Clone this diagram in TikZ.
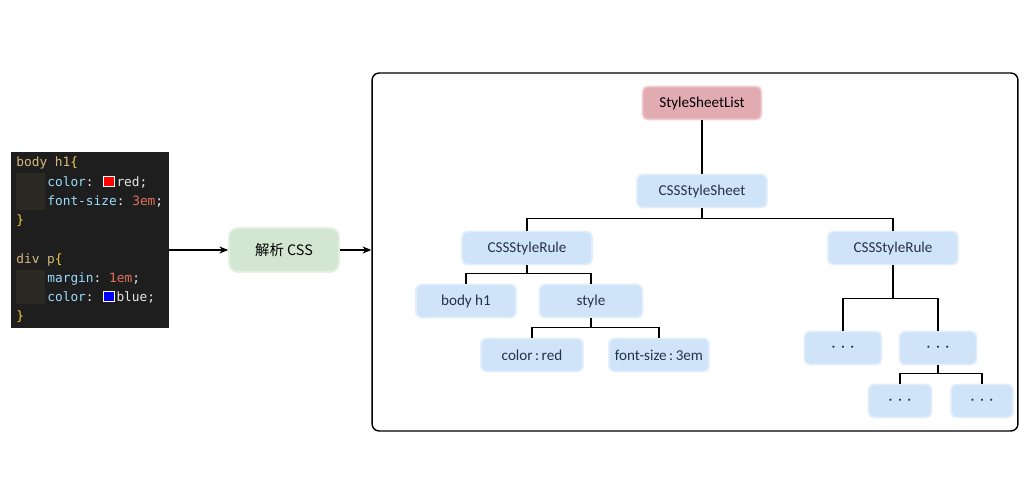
\documentclass[tikz,border=0pt]{standalone}
\usepackage{fontspec}
\setmainfont{Carlito}
\setmonofont{DejaVu Sans Mono}
\newfontfamily\cjk{Noto Sans CJK SC}
\usetikzlibrary{arrows.meta,positioning,calc}
\definecolor{codebg}{HTML}{1E1E1E}
\definecolor{guide}{HTML}{2B2A22}
\definecolor{selcol}{HTML}{D7BA7D}
\definecolor{brace}{HTML}{F2CF3A}
\definecolor{prop}{HTML}{9CDCFE}
\definecolor{val}{HTML}{E6E6E6}
\definecolor{num}{HTML}{E0705A}
\definecolor{parsefill}{HTML}{D3E6D1}
\definecolor{rootfill}{HTML}{E2ABB2}
\definecolor{leaffill}{HTML}{CFE3F9}
\definecolor{leaftxt}{HTML}{26324A}
% little colour swatch, as the editor shows it
\newcommand{\swatch}[1]{{\setlength{\fboxsep}{0pt}\setlength{\fboxrule}{0.5pt}%
  \fcolorbox{white}{#1}{\rule{0pt}{5.6pt}\hspace{5.6pt}}}}
\tikzset{
  codeline/.style={anchor=west,inner sep=0pt,font=\ttfamily\fontsize{7.3}{8}\selectfont,text=val},
  treebox/.style={rounded corners=3pt,fill=leaffill,draw=leaffill!60!white,line width=1pt,
                  text=leaftxt,font=\fontsize{8.6}{10}\selectfont,minimum height=0.66cm,inner sep=0pt},
  treeedge/.style={black,line width=0.6pt},
  flow/.style={-{Stealth[length=5pt,width=4pt]},black,line width=0.6pt},
}

\begin{document}
\begin{tikzpicture}[x=0.02cm,y=-0.02cm]
    \fill[white] (0,0) rectangle (1034,500);
    \useasboundingbox (0,0) rectangle (1034,500);
    % the css source, editor look
    \node[fill=codebg,minimum width=3.16cm,minimum height=3.52cm,inner sep=0pt] (css) at (90,240) {};
    \fill[guide] (16,173) rectangle (45,210);
    \fill[guide] (16,270) rectangle (45,304);
    \node[codeline] (l1) at (16,163) {\textcolor{selcol}{body h1}\textcolor{brace}{\{}};
    \node[codeline] (l2) at (47,182) {\textcolor{prop}{color}: \hspace{1pt}\swatch{red}\hspace{1pt}red;};
    \node[codeline] (l3) at (47,202) {\textcolor{prop}{font-size}: \textcolor{num}{3em};};
    \node[codeline] (l4) at (16,221) {\textcolor{brace}{\}}};
    \node[codeline] (l5) at (16,260) {\textcolor{selcol}{div p}\textcolor{brace}{\{}};
    \node[codeline] (l6) at (47,279) {\textcolor{prop}{margin}: \textcolor{num}{1em};};
    \node[codeline] (l7) at (47,297) {\textcolor{prop}{color}: \hspace{1pt}\swatch{blue}\hspace{1pt}blue;};
    \node[codeline] (l8) at (16,317) {\textcolor{brace}{\}}};
    % parser step
    \node[rounded corners=5pt,fill=parsefill,draw=parsefill!60!white,line width=1pt,
          minimum width=2.2cm,minimum height=0.88cm,font=\cjk\fontsize{8.2}{10}\selectfont] (parse) at (284,250) {解析 CSS};
    \node[draw,rounded corners=4pt,line width=0.8pt,minimum width=12.92cm,minimum height=7.16cm] (frame) at (695,252) {};
    \draw[flow] (css.east |- parse.west) -- (parse.west);
    \draw[flow] (parse.east) -- (frame.west |- parse.east);
    % the resulting tree
    \node[treebox,fill=rootfill,draw=rootfill!60!white,text=black,minimum width=2.38cm] (list) at (702,103) {StyleSheetList};
    \node[treebox,minimum width=2.6cm] (sheet) at (702,191) {CSSStyleSheet};
    \node[treebox,minimum width=2.6cm] (ruleA) at (527,248) {CSSStyleRule};
    \node[treebox,minimum width=2.6cm] (ruleB) at (893,248) {CSSStyleRule};
    \node[treebox,minimum width=2.0cm] (selA) at (466,301) {body h1};
    \node[treebox,minimum width=2.06cm] (decl) at (591,301) {style};
    \node[treebox,minimum width=2.04cm] (clr) at (532,355) {color\,:\,red};
    \node[treebox,minimum width=2.0cm] (fsz) at (659,355) {font-size\,:\,3em};
    \node[treebox,minimum width=1.54cm] (moreA) at (843,348) {\large$\cdots$};
    \node[treebox,minimum width=1.54cm] (moreB) at (938,348) {\large$\cdots$};
    \node[treebox,minimum width=1.26cm] (moreC) at (900,401) {\large$\cdots$};
    \node[treebox,minimum width=1.24cm] (moreD) at (982,401) {\large$\cdots$};
    \draw[treeedge] (list) -- (sheet);
    \foreach \p/\c/\d in {sheet/ruleA/10.5,sheet/ruleB/10.5,ruleA/selA/8.5,ruleA/decl/8.5,
                          decl/clr/9.5,decl/fsz/9.5,ruleB/moreA/33.5,ruleB/moreB/33.5,
                          moreB/moreC/8.5,moreB/moreD/8.5}
      \draw[treeedge] (\p.south) -- ++(0,\d) -| (\c.north);
\end{tikzpicture}
\end{document}
